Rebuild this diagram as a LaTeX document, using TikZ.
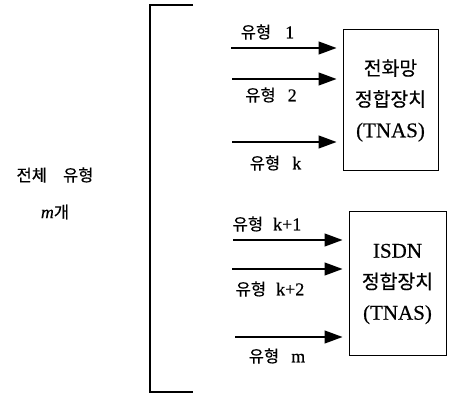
\documentclass[tikz,border=0pt]{standalone}
\usepackage{fontspec}
\setmainfont{Liberation Serif}[FakeBold=0.4]
\newfontfamily\kr[Scale=0.92, FakeBold=0.4]{Noto Sans CJK KR}
\usetikzlibrary{arrows.meta, positioning}

\begin{document}
\begin{tikzpicture}[x=1pt, y=-1pt, font=\fontsize{18}{21}\selectfont,
        inarrow/.style={line width=1.3pt, shorten >=6pt, -{Triangle[length=18pt,width=13pt]}},
        tnasbox/.style={draw, line width=1pt, align=center, font=\fontsize{21}{31}\selectfont},
        typelabel/.style={inner sep=0pt}]
            \useasboundingbox (0,0) rectangle (451,396);

            % Draw the bracket of all types
            \coordinate (brtop) at (193,5);
            \coordinate (brbot) at (193,392);
            \draw[line width=1.2pt] (brtop) -- (150,5) -- (150,392) -- (brbot);

            \node[typelabel] (total) at (55,175) {{\kr 전체}\hspace{16pt}{\kr 유형}};
            \node[typelabel] (count) at (55,212) {\textit{m}{\kr 개}};

            % Telephone network adaptor
            \node[tnasbox, minimum width=95pt, minimum height=141pt] (tel) at (390.5,100.5)
                {{\kr 전화망}\\{\kr 정합장치}\\(TNAS)};
            \coordinate (t1) at (231,48);
            \coordinate (t2) at (232,79);
            \coordinate (tk) at (232,142);
            \draw[inarrow] (t1) -- (t1 -| tel.west);
            \draw[inarrow] (t2) -- (t2 -| tel.west);
            \draw[inarrow] (tk) -- (tk -| tel.west);
            \node[typelabel] (lt1) at (267.5,32) {{\kr 유형}\hspace{14pt}1};
            \node[typelabel] (lt2) at (271,95) {{\kr 유형}\hspace{12pt}2};
            \node[typelabel] (ltk) at (275.5,163) {{\kr 유형}\hspace{12pt}k};

            % ISDN adaptor
            \node[tnasbox, minimum width=97pt, minimum height=144pt] (isdn) at (397.5,284)
                {ISDN\\{\kr 정합장치}\\(TNAS)};
            \coordinate (i1) at (233,240);
            \coordinate (i2) at (232,269);
            \coordinate (im) at (235,337);
            \draw[inarrow] (i1) -- (i1 -| isdn.west);
            \draw[inarrow] (i2) -- (i2 -| isdn.west);
            \draw[inarrow] (im) -- (im -| isdn.west);
            \node[typelabel] (li1) at (267,224) {{\kr 유형}\hspace{10pt}k+1};
            \node[typelabel] (li2) at (270,289) {{\kr 유형}\hspace{10pt}k+2};
            \node[typelabel] (lim) at (277,356) {{\kr 유형}\hspace{12pt}m};
        \end{tikzpicture}
\end{document}
